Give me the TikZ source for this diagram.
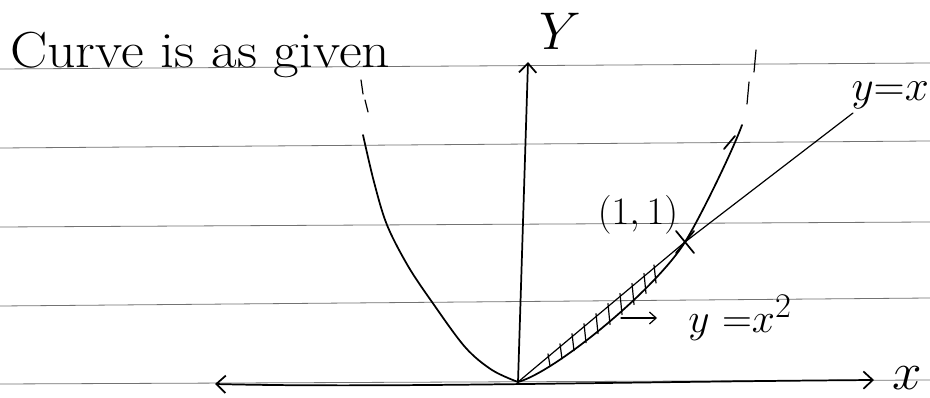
\documentclass[tikz,border=0pt]{standalone}
\usetikzlibrary{arrows.meta,calc}
\newcommand\handmath[2]{\scalebox{#1}{$#2$}}
\begin{document}
\begin{tikzpicture}[x=0.75pt,y=-0.75pt,line cap=round,line join=round,
  rule/.style={draw=black!55,line width=0.6pt},
  ink/.style={draw=black,line width=1.3pt},
  thinink/.style={draw=black,line width=0.9pt},
  hand/.style={inner sep=0pt,font=\fontsize{24.88}{30}\selectfont},
  barb/.tip={Straight Barb[length=7pt,width=13pt,line width=1.3pt]}]
\useasboundingbox (0,0) rectangle (930,398);
\fill[white] (0,0) rectangle (930,398);
% ruled paper
\draw[rule] (0,69) -- (930,63);
\draw[rule] (0,148) -- (930,141);
\draw[rule] (0,227) -- (930,222);
\draw[rule] (0,306) -- (930,298);
\draw[rule] (0,384) -- (930,380);
% title
\node[hand,anchor=base west,font=\fontsize{38}{42}\selectfont] (title) at (10,68) {\scalebox{1.1}[1]{Curve is as given}};
% axes
\coordinate (O) at (518,382);
\coordinate (ytip) at (528,62);
\coordinate (xl) at (215,384);
\coordinate (xr) at (874,380);
\draw[ink,-barb] (O) -- (ytip);
\draw[ink,barb-barb] (xl) .. controls (380,388) and (600,382) .. (xr);
\node[hand] (ylab) at (560,31) {\handmath{1.6}{Y}};
\node[hand] (xlab) at (907,378) {\handmath{1.6}{x}};
% parabola: left branch
\draw[ink] plot[smooth,tension=0.55] coordinates {(363,135) (374,182) (387,225) (408,266) (432,302) (465,347) (492,370) (518,382)};
% parabola: right branch
\coordinate (P) at (685,242);
\coordinate (ptop) at (742,125);
\draw[ink] (O) .. controls (555,372) and (655,290) .. (P)
                .. controls (700,218) and (733,150) .. (ptop);
\draw[ink] (724,149) -- (735,136);
% continuation ticks
\draw[thinink] (361,80) -- (363,94);
\draw[thinink] (365,100) -- (368,112);
\draw[thinink] (749,82) -- (747,104);
\draw[thinink] (756,50) -- (754,72);
% line y = x
\coordinate (yxend) at (853,113);
\draw[thinink] (O) -- (P) -- (yxend);
\node[hand,anchor=east] (yxlab) at (929,95) {\handmath{1.3}{y{=}x}};
% point (1,1)
\draw[ink] (P) ++(-9,-11) -- ++(18,22);
\draw[ink] (P) ++(-9,11) -- ++(18,-22);
\node[hand] (plab) at (638,215) {\handmath{1.17}{(1,1)}};
% hatching between the line and the parabola
\foreach \x/\l in {548/12, 560/15, 572/17, 584/19, 596/20, 608/21, 620/21, 632/21, 644/20, 654/18} {
  \draw[thinink] (\x,{382-(\x-518)*0.838-3}) -- ++(2,\l);
}
% label y = x^2
\coordinate (arrs) at (621,318);
\coordinate (arre) at (657,318);
\draw[thinink,-{Straight Barb[length=5pt,width=9pt]}] (arrs) -- (arre);
\node[hand,anchor=west] (sqlab) at (688,318) {\handmath{1.25}{y\ {=}x^2}};
\end{tikzpicture}
\end{document}
